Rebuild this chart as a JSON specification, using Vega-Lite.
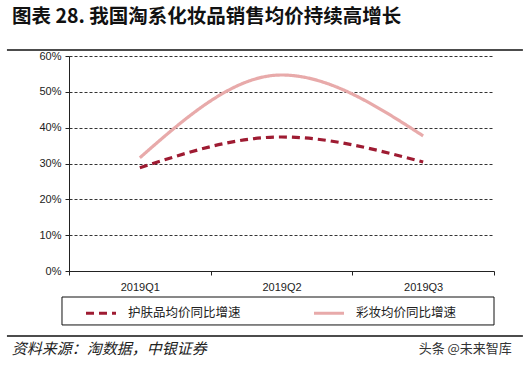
{
  "$schema": "https://vega.github.io/schema/vega-lite/v6.json",
  "autosize": {"type": "none"},
  "width": 425,
  "height": 215,
  "padding": {"left": 69, "top": 56, "right": 36, "bottom": 101},
  "background": "white",
  "title": {
    "text": "图表 28. 我国淘系化妆品销售均价持续高增长",
    "anchor": "start",
    "frame": "group",
    "dx": -57,
    "offset": 22,
    "font": "Noto Sans CJK SC",
    "fontSize": 19.5,
    "fontWeight": "bold",
    "color": "#111"
  },
  "config": {
    "view": {"stroke": null},
    "axis": {"labelFont": "Liberation Sans", "labelFontSize": 11, "labelColor": "#222", "domainColor": "#222", "tickColor": "#222"}
  },
  "layer": [
    {
      "data": {"values": [{"x": -0.0165, "x2": 1.0, "y": -0.121, "y2": -0.251}]},
      "mark": {"type": "rect", "fill": "white", "stroke": "#111", "strokeWidth": 1, "clip": false},
      "encoding": {
        "x": {"field": "x", "type": "quantitative", "scale": {"domain": [0, 1], "nice": false, "zero": false}, "axis": null},
        "x2": {"field": "x2"},
        "y": {"field": "y", "type": "quantitative", "scale": {"domain": [0, 1], "nice": false, "zero": false}, "axis": null},
        "y2": {"field": "y2"}
      }
    },
    {
      "data": {
        "values": [
          {"q": "2019Q1", "s": "护肤品均价同比增速", "v": 0.288},
          {"q": "2019Q2", "s": "护肤品均价同比增速", "v": 0.374},
          {"q": "2019Q3", "s": "护肤品均价同比增速", "v": 0.304},
          {"q": "2019Q1", "s": "彩妆均价同比增速", "v": 0.316},
          {"q": "2019Q2", "s": "彩妆均价同比增速", "v": 0.547},
          {"q": "2019Q3", "s": "彩妆均价同比增速", "v": 0.377}
        ]
      },
      "mark": {"type": "line", "interpolate": "monotone", "strokeWidth": 3.2},
      "encoding": {
        "x": {
          "field": "q", "type": "ordinal", "bandPosition": 0.5,
          "scale": {"type": "band", "paddingInner": 0, "paddingOuter": 0},
          "axis": {"title": null, "labelAngle": 0, "tickBand": "extent", "tickSize": 4, "labelPadding": 6, "grid": false}
        },
        "y": {
          "field": "v", "type": "quantitative",
          "scale": {"domain": [0, 0.6], "nice": false},
          "axis": {"title": null, "format": ".0%", "values": [0, 0.1, 0.2, 0.3, 0.4, 0.5, 0.6], "tickSize": 4, "labelPadding": 4,
                   "grid": true, "gridDash": [3, 2], "gridColor": "#333", "gridWidth": 1}
        },
        "color": {
          "field": "s", "type": "nominal",
          "scale": {"domain": ["护肤品均价同比增速", "彩妆均价同比增速"], "range": ["#9E1B32", "#E8AAAA"]},
          "legend": {
            "title": null, "orient": "none", "legendX": 15, "legendY": 240, "direction": "horizontal",
            "padding": 0, "columnPadding": 66,
            "symbolType": "stroke", "symbolSize": 900, "symbolStrokeWidth": 3.2,
            "labelFont": "Noto Sans CJK SC", "labelFontSize": 12.5, "labelColor": "#222", "labelOffset": 10, "labelLimit": 200
          }
        },
        "strokeDash": {
          "field": "s", "type": "nominal",
          "scale": {"domain": ["护肤品均价同比增速", "彩妆均价同比增速"], "range": [[8, 5], [1, 0]]},
          "legend": null
        }
      }
    },
    {
      "data": {"values": [{"x": -0.146, "x2": 1.068, "y": 1.028}, {"x": -0.146, "x2": 1.068, "y": -0.302}]},
      "mark": {"type": "rule", "color": "#111", "strokeWidth": 1.5, "clip": false},
      "encoding": {
        "x": {"field": "x", "type": "quantitative", "scale": {"domain": [0, 1], "nice": false, "zero": false}, "axis": null},
        "x2": {"field": "x2"},
        "y": {"field": "y", "type": "quantitative", "scale": {"domain": [0, 1], "nice": false, "zero": false}, "axis": null}
      }
    },
    {
      "data": {"values": [{"x": -0.135, "y": -0.363, "t": "资料来源：淘数据，中银证券"}]},
      "mark": {"type": "text", "align": "left", "baseline": "middle", "font": "Noto Sans CJK SC", "fontStyle": "italic", "fontSize": 15, "color": "#222", "clip": false},
      "encoding": {
        "x": {"field": "x", "type": "quantitative", "scale": {"domain": [0, 1], "nice": false, "zero": false}, "axis": null},
        "y": {"field": "y", "type": "quantitative", "scale": {"domain": [0, 1], "nice": false, "zero": false}, "axis": null},
        "text": {"field": "t"}
      }
    },
    {
      "data": {"values": [{"x": 1.042, "y": -0.363, "t": "头条 @未来智库"}]},
      "mark": {"type": "text", "align": "right", "baseline": "middle", "font": "Noto Sans CJK SC", "fontSize": 13, "color": "#333", "clip": false},
      "encoding": {
        "x": {"field": "x", "type": "quantitative", "scale": {"domain": [0, 1], "nice": false, "zero": false}, "axis": null},
        "y": {"field": "y", "type": "quantitative", "scale": {"domain": [0, 1], "nice": false, "zero": false}, "axis": null},
        "text": {"field": "t"}
      }
    }
  ],
  "resolve": {"scale": {"x": "independent", "y": "independent"}}
}
